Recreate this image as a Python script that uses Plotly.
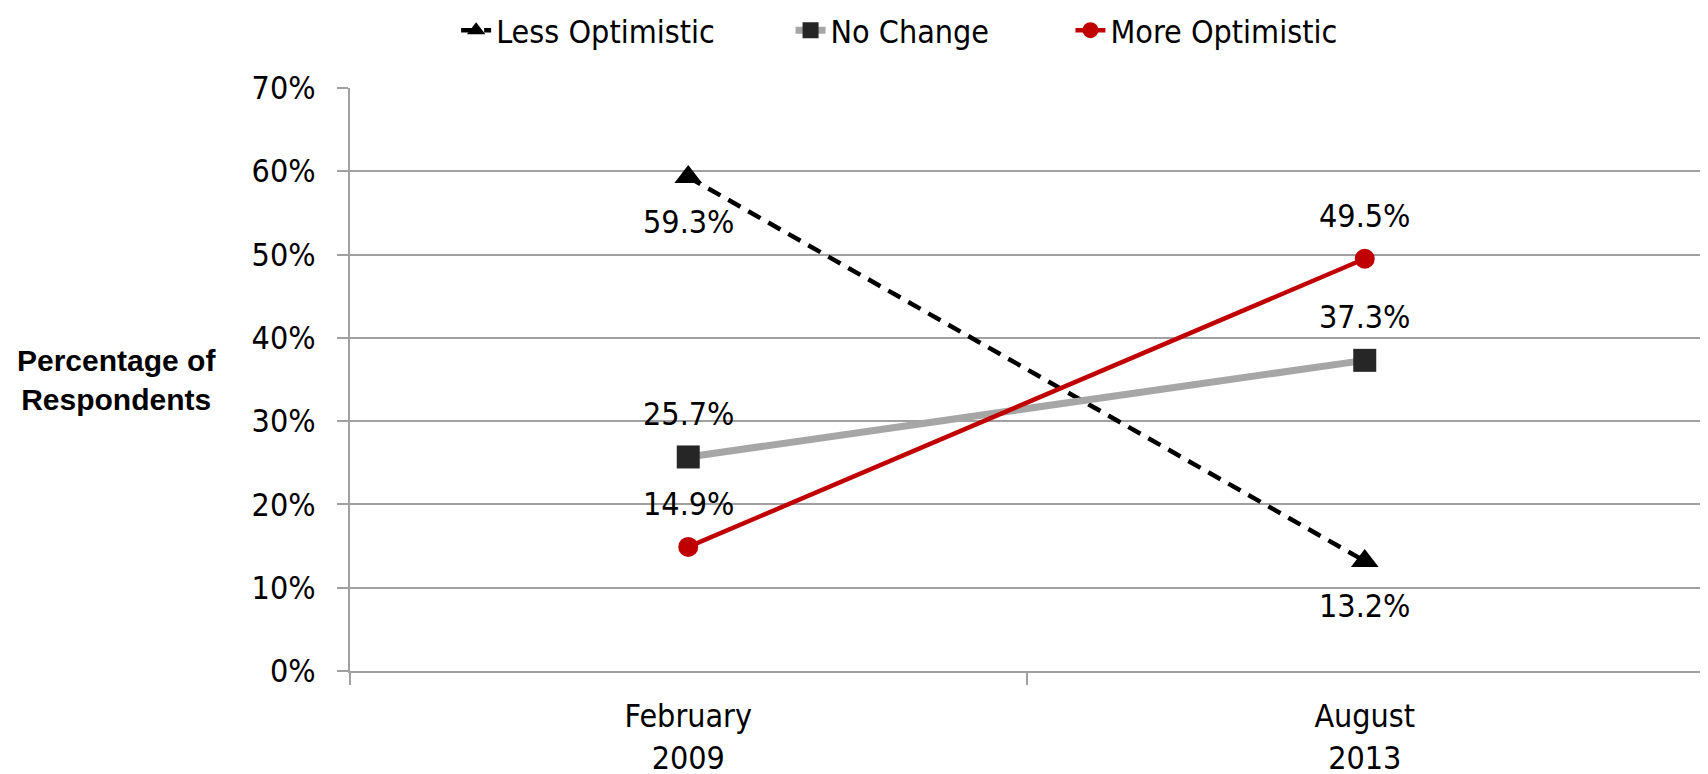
import plotly.graph_objects as go

categories = ["February<br>2009", "August<br>2013"]
less_optimistic = [59.3, 13.2]
no_change = [25.7, 37.3]
more_optimistic = [14.9, 49.5]
y_ticks = [0, 10, 20, 30, 40, 50, 60, 70]
y_tick_labels = ["0%", "10%", "20%", "30%", "40%", "50%", "60%", "70%"]

NARROW = "Liberation Sans Narrow, Arial Narrow, DejaVu Sans Condensed, Liberation Sans, sans-serif"
BOLD = "Liberation Sans, Arial, sans-serif"

fig = go.Figure()
fig.add_trace(go.Scatter(
    x=categories, y=less_optimistic, name="Less Optimistic", mode="lines+markers",
    line=dict(color="#000000", width=4.5, dash="14px,9px"),
    marker=dict(symbol="triangle-up", size=24, color="#000000"),
    legend="legend",
))
fig.add_trace(go.Scatter(
    x=categories, y=no_change, name="No Change", mode="lines+markers",
    line=dict(color="#A6A6A6", width=7),
    marker=dict(symbol="square", size=23, color="#262626"),
    legend="legend2",
))
fig.add_trace(go.Scatter(
    x=categories, y=more_optimistic, name="More Optimistic", mode="lines+markers",
    line=dict(color="#C00000", width=4.5),
    marker=dict(symbol="circle", size=20, color="#C00000"),
    legend="legend3",
))

# data labels: above (+1) or below (-1) the marker
label_pos = {
    "less": [-1, -1],
    "no": [1, 1],
    "more": [1, 1],
}
for vals, pos in [(less_optimistic, label_pos["less"]), (no_change, label_pos["no"]), (more_optimistic, label_pos["more"])]:
    for c, v, p in zip(categories, vals, pos):
        fig.add_annotation(x=c, y=v, text=f"{v:.1f}%", showarrow=False,
                           yshift=43 if p > 0 else -45,
                           font=dict(family=NARROW, size=32, color="#000"))

fig.add_annotation(xref="paper", yref="paper", x=-0.1725, y=0.5, text="<b>Percentage of<br>Respondents</b>",
                   showarrow=False, xanchor="center", yanchor="middle",
                   font=dict(family=BOLD, size=30, color="#000"))

leg_common = dict(orientation="h", xanchor="center", y=1.146, yanchor="top",
                  font=dict(family=NARROW, size=32, color="#000"), bgcolor="rgba(0,0,0,0)")

fig.update_layout(
    width=1708, height=774,
    margin=dict(l=342, r=13, t=80, b=111, autoexpand=False),
    plot_bgcolor="white", paper_bgcolor="white",
    font=dict(family=NARROW, size=32, color="#000"),
    showlegend=True,
    legend=dict(x=0.176, **leg_common),
    legend2=dict(x=0.401, **leg_common),
    legend3=dict(x=0.633, **leg_common),
    xaxis=dict(type="category", tickson="boundaries", ticks="outside", ticklen=12,
               tickcolor="#A0A0A0", tickwidth=1.5, showline=True, linecolor="#A0A0A0", linewidth=2,
               showgrid=False, tickfont=dict(family=NARROW, size=32), range=[-0.5, 1.5],
               ticklabelstandoff=16),
    yaxis=dict(range=[0, 70], tickvals=y_ticks, ticktext=y_tick_labels, ticks="outside", ticklen=11,
               tickcolor="#A0A0A0", tickwidth=1.5, showline=True, linecolor="#A0A0A0", linewidth=2,
               showgrid=True, gridcolor="#A0A0A0", gridwidth=1.5, zeroline=False,
               tickfont=dict(family=NARROW, size=32), ticklabelstandoff=15),
)

fig.write_html("out.html")
